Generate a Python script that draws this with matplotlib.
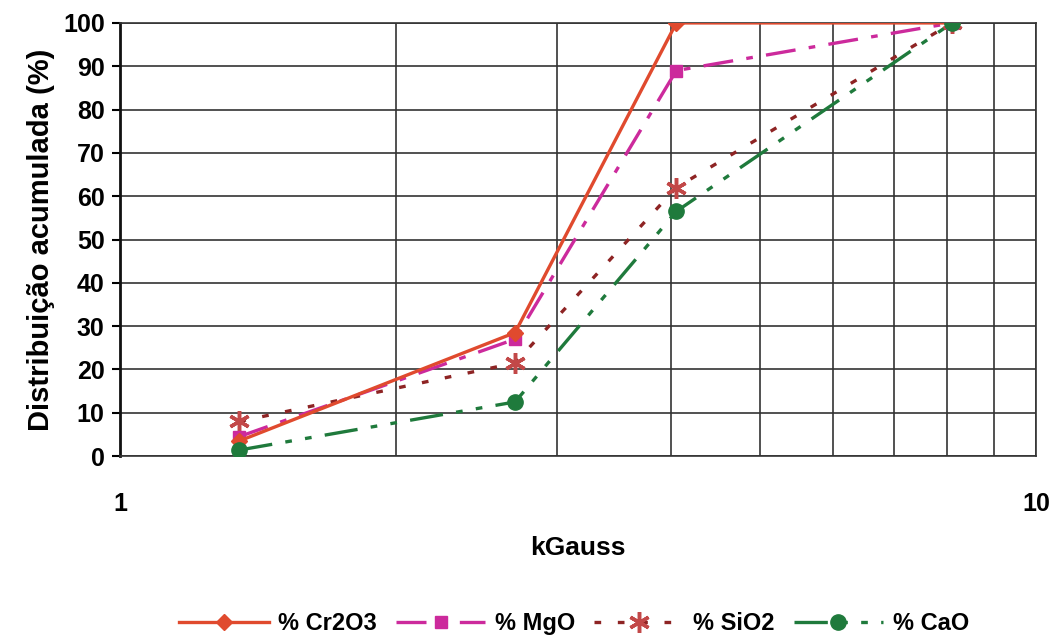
import numpy as np
import matplotlib.pyplot as plt
from matplotlib.ticker import FixedLocator, NullFormatter

plt.rcParams['font.family'] = ['Liberation Sans', 'DejaVu Sans']
plt.rcParams['font.weight'] = 'bold'

kgauss = [1.35, 2.7, 4.05, 8.1]
cr2o3 = [3.5, 28.5, 100, 100]
mgo = [4.5, 27, 89, 100]
sio2 = [8, 21.5, 62, 100]
cao = [1.4, 12.5, 56.5, 100]

fig = plt.figure(figsize=(10.57, 6.37), dpi=100)
ax = fig.add_axes([0.1135, 0.284, 0.8665, 0.68])

ax.plot(kgauss, cr2o3, color='#e04a2e', lw=2.4, ls='-', marker='D', ms=8,
        label='% Cr2O3', zorder=5)
ax.plot(kgauss, mgo, color='#cc2a9c', lw=2.4, dashes=(9, 4, 2, 4), marker='s', ms=9,
        label='% MgO', zorder=4)
ax.plot(kgauss, sio2, color='#8e2424', lw=2.4, ls=(0, (2, 5)), marker=(6, 2, 0), ms=15,
        mew=2.5, mec='#c24848', label='% SiO2', zorder=3)
ax.plot(kgauss, cao, color='#1f7a3c', lw=2.4, dashes=(10, 4, 2, 4, 2, 4), marker='o', ms=11,
        label='% CaO', zorder=6)

ax.set_xscale('log')
ax.set_xlim(1, 10)
ax.set_ylim(0, 100)
ax.xaxis.set_major_locator(FixedLocator([1, 10]))
ax.xaxis.set_minor_locator(FixedLocator(range(2, 10)))
ax.xaxis.set_minor_formatter(NullFormatter())
ax.set_xticklabels(['1', '10'])
ax.set_yticks(np.arange(0, 101, 10))

ax.grid(True, which='both', color='#333333', lw=1.2)
ax.tick_params(axis='x', which='both', length=0, pad=26, labelsize=18)
ax.tick_params(axis='y', length=6, width=1.5, direction='out', pad=5, labelsize=18)
for s in ax.spines.values():
    s.set_color('#333333')
    s.set_linewidth(1.2)
ax.spines['left'].set_linewidth(2)
ax.spines['left'].set_color('#111111')

ax.set_xlabel('kGauss', fontsize=19, fontweight='bold', labelpad=14)
ax.set_ylabel('Distribuição acumulada (%)', fontsize=21, fontweight='bold', labelpad=6)

fig.legend(loc='lower center', bbox_to_anchor=(0.543, -0.03), ncol=4, frameon=False,
           fontsize=17, handlelength=3.8, columnspacing=0.8, handletextpad=0.4)

fig.savefig('out.png', dpi=100)
